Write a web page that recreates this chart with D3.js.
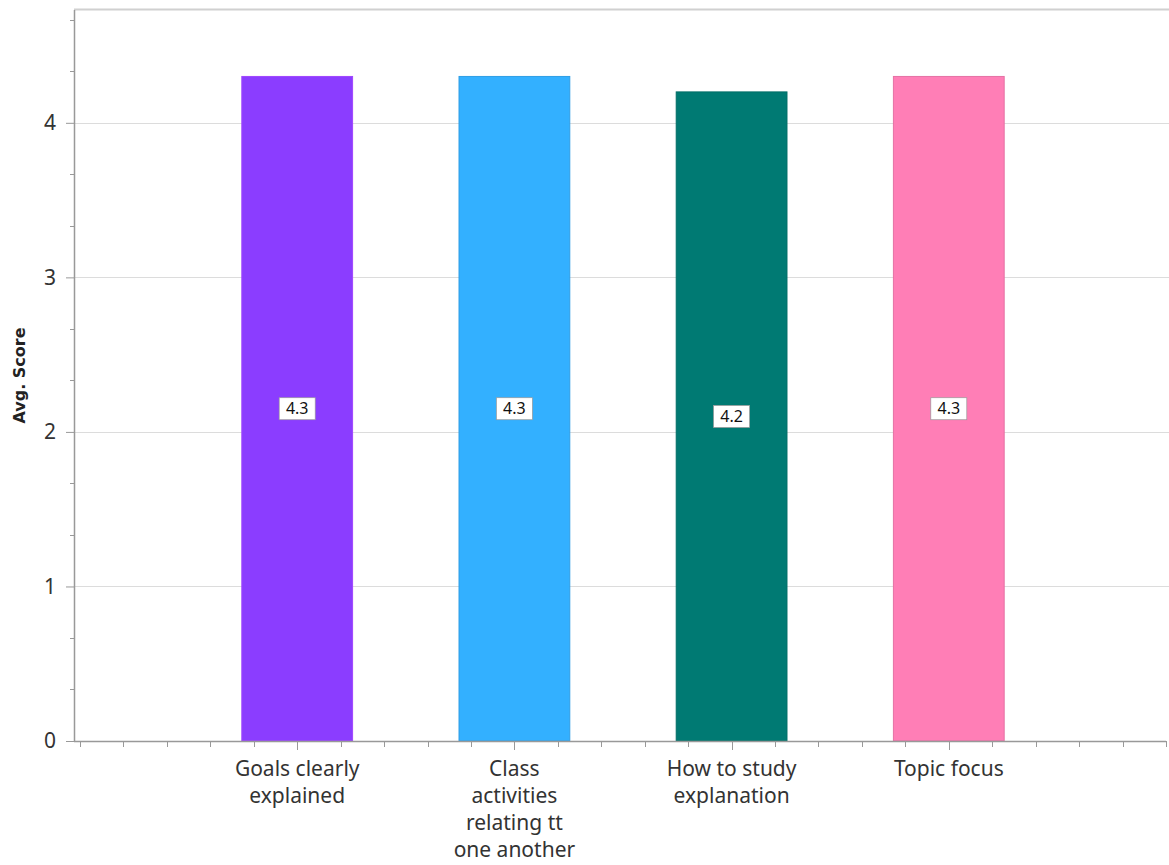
<!DOCTYPE html>
<html>
<head>
<meta charset="utf-8">
<script src="https://cdn.jsdelivr.net/npm/d3@7"></script>
<style>
  body { margin: 0; background: #fff; }
  svg { display: block; font-family: "Noto Sans", sans-serif; }
</style>
</head>
<body>
<svg id="chart" width="1169" height="865"></svg>
<script>
// data
const categories = ['Goals clearly explained', 'Class activities relating tt one another', 'How to study explanation', 'Topic focus'];
const labelLines = [['Goals clearly', 'explained'], ['Class', 'activities', 'relating tt', 'one another'], ['How to study', 'explanation'], ['Topic focus']];
const scores = [4.3, 4.3, 4.2, 4.3];
const colors = ['#8b3dff', '#33b0ff', '#007a73', '#ff7eb6'];
const yTicks = [0, 1, 2, 3, 4];

const width = 1169, height = 865;
const margin = { top: 10, right: 3, bottom: 124, left: 74 };

const svg = d3.select('#chart');

const y = d3.scaleLinear()
    .domain([0, d3.max(scores) * 1.1])
    .range([height - margin.bottom, margin.top]);

const x = d3.scaleLinear()
    .domain([-1, categories.length])
    .range([80, width - margin.right]);

const barW = x(0.255) - x(-0.255);

// gridlines
svg.append('g')
    .selectAll('line')
    .data(yTicks.slice(1))
    .enter()
    .append('line')
    .attr('x1', margin.left)
    .attr('x2', width)
    .attr('y1', d => Math.round(y(d)) + 0.5)
    .attr('y2', d => Math.round(y(d)) + 0.5)
    .attr('stroke', '#dcdcdc');

// top border
svg.append('line')
    .attr('x1', margin.left).attr('x2', width)
    .attr('y1', margin.top - 0.5).attr('y2', margin.top - 0.5)
    .attr('stroke', '#d0d0d0').attr('stroke-width', 2);

// bars
svg.append('g')
    .selectAll('rect')
    .data(scores)
    .enter()
    .append('rect')
    .attr('x', (d, i) => x(i) - barW / 2)
    .attr('y', d => y(d))
    .attr('width', barW)
    .attr('height', d => y(0) - y(d))
    .attr('fill', (d, i) => colors[i])
    .attr('stroke', (d, i) => i == 0 ? d3.color(colors[i]).brighter(0.4) : d3.color(colors[i]).darker(0.3))
    .attr('stroke-width', 1);

// value labels
const vl = svg.append('g')
    .selectAll('g')
    .data(scores)
    .enter()
    .append('g')
    .attr('transform', (d, i) => 'translate(' + x(i) + ',' + ((y(d) + y(0)) / 2) + ')');
vl.append('rect')
    .attr('x', -18).attr('y', -11)
    .attr('width', 36).attr('height', 22)
    .attr('fill', '#fff')
    .attr('stroke', '#999')
    .attr('stroke-width', 0.7);
vl.append('text')
    .text(d => d.toFixed(1))
    .attr('text-anchor', 'middle')
    .attr('dy', '0.36em')
    .attr('font-size', '16px')
    .attr('fill', '#111');

// y axis
const yAxis = d3.axisLeft(y)
    .tickValues(yTicks)
    .tickFormat(d3.format('d'))
    .tickSize(8)
    .tickPadding(10);
const yg = svg.append('g')
    .attr('transform', 'translate(' + margin.left + ',0)')
    .call(yAxis);
yg.select('.domain').remove();
yg.selectAll('.tick line').attr('stroke', '#999');
yg.selectAll('.tick text')
    .attr('font-size', '21px')
    .attr('font-family', '"Noto Sans", sans-serif')
    .attr('fill', '#333');

// y minor ticks
const yMinor = d3.range(0, y.domain()[1], 1 / 3).filter(v => Math.abs(v - Math.round(v)) > 0.01);
svg.append('g')
    .selectAll('line')
    .data(yMinor)
    .enter()
    .append('line')
    .attr('x1', margin.left - 4).attr('x2', margin.left)
    .attr('y1', d => Math.round(y(d)) + 0.5).attr('y2', d => Math.round(y(d)) + 0.5)
    .attr('stroke', '#999');

svg.append('line')
    .attr('x1', margin.left + 0.5).attr('x2', margin.left + 0.5)
    .attr('y1', margin.top).attr('y2', y(0))
    .attr('stroke', '#999').attr('stroke-width', 1.5);

// x axis
const xMinor = d3.range(-1, categories.length + 0.001, 0.2);
svg.append('g')
    .selectAll('line')
    .data(xMinor)
    .enter()
    .append('line')
    .attr('x1', d => Math.round(x(d)) + 0.5).attr('x2', d => Math.round(x(d)) + 0.5)
    .attr('y1', y(0))
    .attr('y2', d => y(0) + (Math.abs(d - Math.round(d)) < 0.01 && d >= 0 && d < categories.length ? 9 : 6))
    .attr('stroke', '#999');

svg.append('line')
    .attr('x1', margin.left).attr('x2', width - margin.right)
    .attr('y1', y(0) + 0.5).attr('y2', y(0) + 0.5)
    .attr('stroke', '#999').attr('stroke-width', 1.5);

// category labels
const cl = svg.append('g')
    .selectAll('text')
    .data(labelLines)
    .enter()
    .append('text')
    .attr('text-anchor', 'middle')
    .attr('font-size', '21px')
    .attr('fill', '#333');
cl.selectAll('tspan')
    .data((d, i) => d.map(t => ({ t: t, i: i })))
    .enter()
    .append('tspan')
    .attr('x', d => x(d.i))
    .attr('y', (d, j) => y(0) + 35 + j * 27)
    .text(d => d.t);

// axis title
svg.append('text')
    .attr('transform', 'translate(25,' + ((margin.top + y(0)) / 2) + ') rotate(-90)')
    .attr('text-anchor', 'middle')
    .attr('font-family', '"DejaVu Sans", sans-serif')
    .attr('font-size', '16px')
    .attr('font-weight', 'bold')
    .attr('fill', '#222')
    .text('Avg. Score');
</script>
</body>
</html>
